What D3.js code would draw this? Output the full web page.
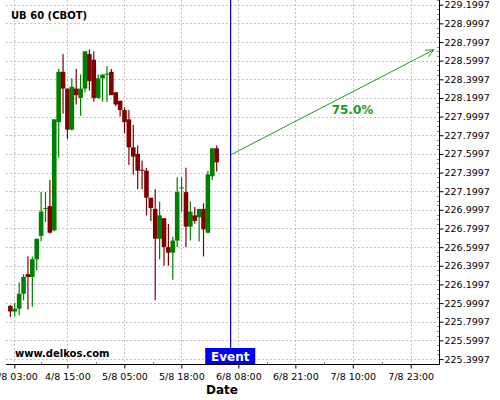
<!DOCTYPE html>
<html>
<head>
<meta charset="utf-8">
<script src="https://cdn.jsdelivr.net/npm/d3@7"></script>
<style>
  html, body { margin: 0; padding: 0; background: #ffffff; }
  svg { display: block; }
  text { font-family: "DejaVu Sans", sans-serif; }
</style>
</head>
<body>
<svg id="chart" width="500" height="400"></svg>
<script>
// ---- data ----
const opens  = [225.97,225.91,225.94,226.10,226.31,226.28,226.47,226.72,227.01,227.04,226.78,227.94,228.48,228.30,227.86,228.30,228.20,228.30,228.67,228.61,228.20,228.41,228.45,228.48,228.26,228.17,228.07,227.97,227.67,227.60,227.43,227.42,227.13,227.01,226.69,226.91,226.60,226.54,226.67,227.23,227.19,226.82,226.94,226.92,227.01,226.755,227.36,227.66];
const highs  = [225.98,226.00,226.22,226.31,226.50,226.50,226.69,227.19,227.19,227.32,227.97,228.51,228.67,228.30,228.41,228.51,228.45,228.70,228.72,228.70,228.45,228.45,228.54,228.51,228.26,228.17,228.10,228.07,227.91,227.69,227.53,227.45,227.13,227.22,227.09,226.91,226.85,226.71,227.35,227.35,227.45,227.09,227.03,227.01,227.07,227.42,227.66,227.69];
const lows   = [225.85,225.86,225.87,226.03,225.93,225.96,226.35,226.66,226.87,226.745,226.77,227.56,228.03,227.76,227.85,228.13,228.01,228.26,228.28,228.16,228.19,228.16,228.16,228.23,228.11,228.00,227.82,227.48,227.38,227.22,227.22,226.94,226.88,226.03,226.47,226.40,226.40,226.25,226.60,226.98,226.60,226.67,226.85,226.66,226.50,226.745,227.32,227.41];
const closes = [225.91,225.94,226.10,226.28,226.28,226.47,226.69,226.98,227.02,226.755,227.97,228.48,228.30,227.86,228.32,228.23,228.30,228.70,228.38,228.20,228.41,228.45,228.46,228.23,228.13,228.07,227.94,227.67,227.57,227.42,227.42,227.13,227.02,226.69,226.94,226.60,226.54,226.67,227.19,227.24,226.82,226.98,226.88,227.01,226.79,227.38,227.66,227.51];

const xTickLabels = ["3/8 03:00","4/8 15:00","5/8 05:00","5/8 18:00","6/8 08:00","6/8 21:00","7/8 10:00","7/8 23:00"];
const xTickBars   = [0.91, 12.98, 25.97, 38.95, 51.94, 64.92, 78.0, 91.2];
const yTickValues = [225.3997,225.5997,225.7997,225.9997,226.1997,226.3997,226.5997,226.7997,226.9997,227.1997,227.3997,227.5997,227.7997,227.9997,228.1997,228.3997,228.5997,228.7997,228.9997,229.1997];

const eventBar = 50.2;
const forecastBars   = [50.25, 96.5];
const forecastValues = [227.591, 228.717];
const forecastLabel = "75.0%";

const titleText = "UB 60 (CBOT)";
const sourceText = "www.delkos.com";
const eventText = "Event";
const xAxisTitle = "Date";

// ---- layout ----
const svg = d3.select("#chart");
const pLeft = 6, pRight = 439, pTop = 0, pBottom = 364;

const x = d3.scaleLinear().domain([-1, 97.65]).range([pLeft, pRight]);
const y = d3.scaleLinear().domain([225.3466, 229.2501]).range([pBottom, pTop]);

const GREEN = "#008000", RED = "#800000";
const gridColor = "#c4c4c4";

// grid
const grid = svg.append("g");
grid.selectAll("line.h").data(yTickValues).join("line")
  .attr("x1", pLeft).attr("x2", pRight)
  .attr("y1", d => Math.round(y(d)) + 0.5).attr("y2", d => Math.round(y(d)) + 0.5)
  .attr("stroke", gridColor).attr("stroke-dasharray", "2,2").attr("stroke-width", 1);
grid.selectAll("line.v").data(xTickBars).join("line")
  .attr("y1", pTop).attr("y2", pBottom)
  .attr("x1", d => Math.round(x(d)) + 0.5).attr("x2", d => Math.round(x(d)) + 0.5)
  .attr("stroke", gridColor).attr("stroke-dasharray", "2,2").attr("stroke-width", 1);

// candles
const data = opens.map((o, i) => ({ i, o, h: highs[i], l: lows[i], c: closes[i] }));
const bodyW = 4.6;
const cg = svg.append("g");
const candle = cg.selectAll("g").data(data).join("g");
candle.append("line")
  .attr("x1", d => x(d.i)).attr("x2", d => x(d.i))
  .attr("y1", d => y(d.h)).attr("y2", d => y(d.l))
  .attr("stroke", d => d.c >= d.o ? GREEN : RED).attr("stroke-width", 1.2);
candle.append("rect")
  .attr("x", d => x(d.i) - bodyW / 2)
  .attr("width", bodyW)
  .attr("y", d => y(Math.max(d.o, d.c)))
  .attr("height", d => Math.max(1, Math.abs(y(d.o) - y(d.c))))
  .attr("fill", d => d.c >= d.o ? GREEN : RED);

// event line
const ex = x(eventBar);
svg.append("rect")
  .attr("x", Math.floor(ex)).attr("width", 1.2)
  .attr("y", pTop).attr("height", 348 - pTop)
  .attr("fill", "#0000ff");

// forecast arrow
const FC = "#229922";
const ax0 = x(forecastBars[0]), ay0 = y(forecastValues[0]);
const ax1 = x(forecastBars[1]), ay1 = y(forecastValues[1]);
svg.append("line").attr("x1", ax0).attr("y1", ay0).attr("x2", ax1).attr("y2", ay1)
  .attr("stroke", FC).attr("stroke-width", 1);
const ang = Math.atan2(ay1 - ay0, ax1 - ax0);
const ah = 9, spread = 0.42;
svg.append("path")
  .attr("d", `M${ax1 - ah * Math.cos(ang - spread)},${ay1 - ah * Math.sin(ang - spread)} L${ax1},${ay1} L${ax1 - ah * Math.cos(ang + spread)},${ay1 - ah * Math.sin(ang + spread)}`)
  .attr("fill", "none").attr("stroke", FC).attr("stroke-width", 1);
svg.append("text")
  .attr("x", (ax0 + ax1) / 2 + 20).attr("y", (ay0 + ay1) / 2 + 12)
  .attr("text-anchor", "middle")
  .attr("font-size", "12px").attr("font-weight", "bold").attr("fill", FC)
  .text(forecastLabel);

// right axis
const yAxis = d3.axisRight(y).tickValues(yTickValues).tickSize(4).tickPadding(1)
  .tickFormat(d => d.toFixed(4));
const ya = svg.append("g").attr("transform", `translate(${pRight + 0.5},0)`).call(yAxis);
ya.select(".domain").attr("d", `M0,${pTop}V${pBottom + 0.5}`).attr("stroke", "#000");
ya.selectAll(".tick text").attr("font-size", "9.5px").attr("font-family", "DejaVu Sans").attr("fill", "#000");
// minor y ticks
const yMinor = [];
yTickValues.forEach(v => { for (let k = 1; k < 4; k++) yMinor.push(v + k * 0.05); });
svg.append("g").selectAll("line").data(yMinor.filter(v => y(v) > pTop)).join("line")
  .attr("x1", pRight - 2).attr("x2", pRight)
  .attr("y1", d => Math.round(y(d)) + 0.5).attr("y2", d => Math.round(y(d)) + 0.5)
  .attr("stroke", "#888");

// bottom axis
const xAxis = d3.axisBottom(x).tickValues(xTickBars).tickSize(4).tickPadding(5)
  .tickFormat((d, i) => xTickLabels[i]);
const xa = svg.append("g").attr("transform", `translate(0,${pBottom + 0.5})`).call(xAxis);
xa.select(".domain").attr("d", `M${pLeft},0H${pRight + 0.5}`).attr("stroke", "#000");
xa.selectAll(".tick text").attr("font-size", "9.5px").attr("font-family", "DejaVu Sans").attr("fill", "#000");
// minor x ticks
const xMinor = xTickBars.map((b, i) => i < xTickBars.length - 1 ? (b + xTickBars[i + 1]) / 2 : b + (b - xTickBars[i - 1]) / 2)
  .filter(b => x(b) < pRight);
svg.append("g").selectAll("line").data(xMinor).join("line")
  .attr("x1", d => Math.round(x(d)) + 0.5).attr("x2", d => Math.round(x(d)) + 0.5)
  .attr("y1", pBottom - 2).attr("y2", pBottom)
  .attr("stroke", "#888");

svg.append("text").attr("x", 222).attr("y", 394).attr("text-anchor", "middle")
  .attr("font-size", "12px").attr("font-weight", "bold").text(xAxisTitle);

// title & source
svg.append("text").attr("x", 11).attr("y", 19).attr("font-size", "10px").attr("font-weight", "bold").text(titleText);
svg.append("text").attr("x", 15).attr("y", 357).attr("font-size", "10px").attr("font-weight", "bold").text(sourceText);

// event label box
svg.append("rect").attr("x", ex - 25.5).attr("y", 348).attr("width", 50).attr("height", 16).attr("fill", "#0000ff");
svg.append("text").attr("x", ex - 0.5).attr("y", 361).attr("text-anchor", "middle")
  .attr("font-size", "12px").attr("font-weight", "bold").attr("fill", "#ffffff").text(eventText);
</script>
</body>
</html>
